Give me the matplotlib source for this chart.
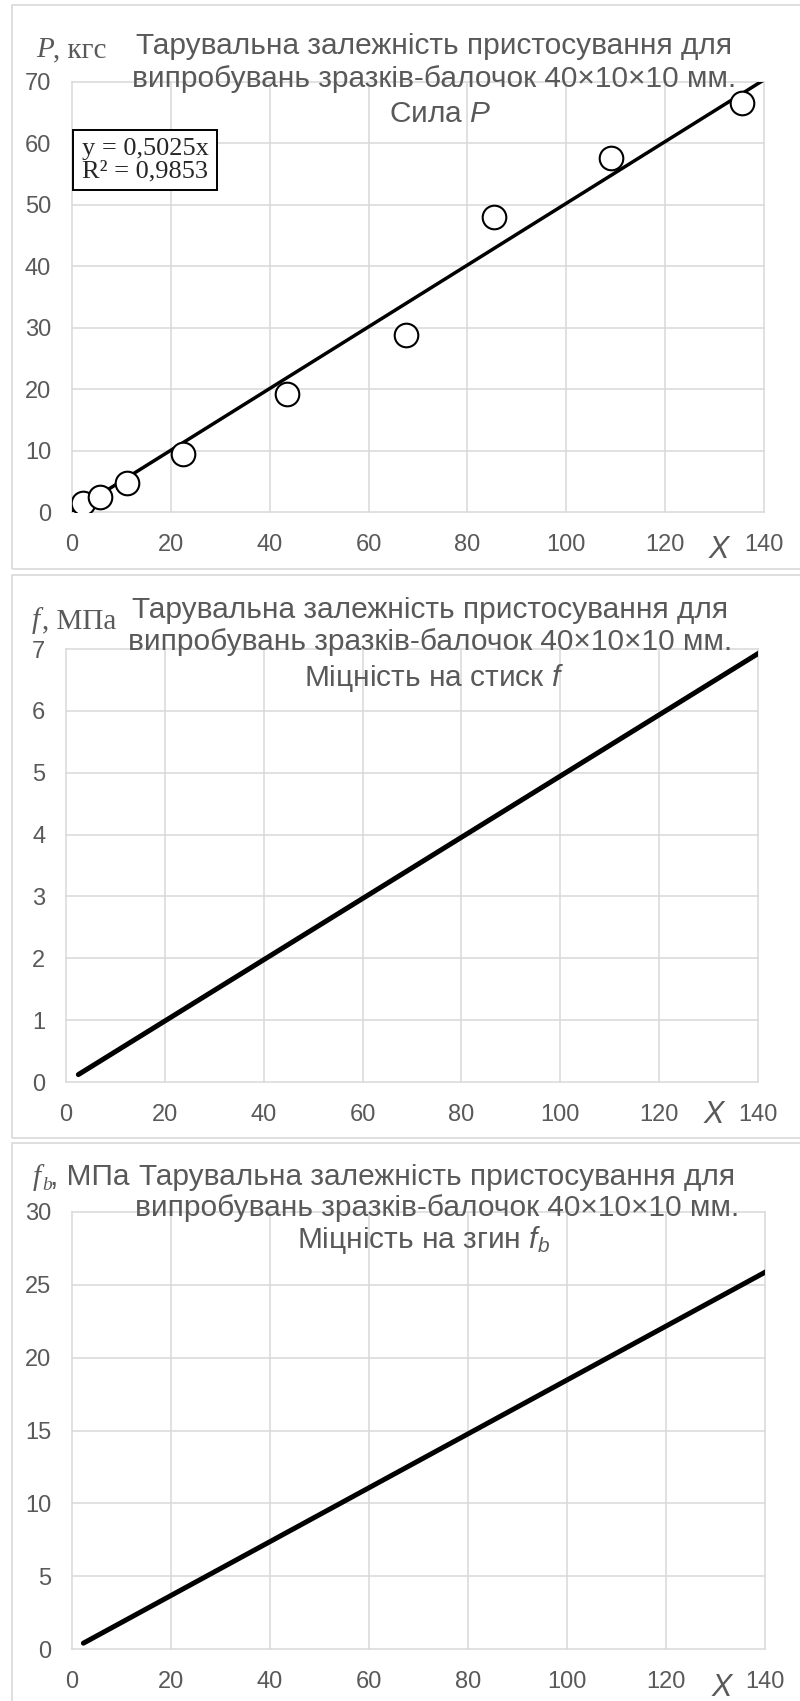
import matplotlib
matplotlib.use('Agg')
import matplotlib.pyplot as plt
from matplotlib import font_manager
from matplotlib.patches import Rectangle

# data
x_points = [2.3, 5.6, 11.1, 22.5, 43.5, 67.5, 85.4, 109.1, 135.6]
p_kgf = [1.5, 2.4, 4.7, 9.5, 19.2, 28.8, 48.0, 57.6, 66.5]
trend_slope = 0.5025
trend_r2 = 0.9853
trend_x = [0, 140]

f_x = [2.5, 140.5]
f_mpa = [0.12, 6.95]

fb_x = [2.3, 140.2]
fb_mpa = [0.4, 25.9]

x_ticks = list(range(0, 141, 20))
p_ticks = list(range(0, 71, 10))
f_ticks = list(range(0, 8))
fb_ticks = list(range(0, 31, 5))

title_1 = 'Тарувальна залежність пристосування для'
title_2 = 'випробувань зразків-балочок 40×10×10 мм.'

W, H = 800, 1701
GREY = '#595959'
GRID = '#d9d9d9'

names = {f.name for f in font_manager.fontManager.ttflist}
SANS = 'Liberation Sans' if 'Liberation Sans' in names else 'DejaVu Sans'
SERIF = 'Liberation Serif' if 'Liberation Serif' in names else 'DejaVu Serif'

plt.rcParams['font.family'] = [SANS, 'DejaVu Sans']
plt.rcParams['mathtext.fontset'] = 'custom'
plt.rcParams['mathtext.rm'] = SANS
plt.rcParams['mathtext.it'] = SANS + ':italic'

fig = plt.figure(figsize=(W / 100, H / 100), dpi=100)


def fx(px):
    return px / W


def fy(py):
    return 1 - py / H


def panel(top, bottom):
    fig.patches.append(Rectangle((fx(12), fy(bottom)), fx(820 - 12), (bottom - top) / H,
                                 transform=fig.transFigure, fill=False,
                                 ec=GRID, lw=1.2))


def make_axes(left, top, right, bottom, yticks):
    ax = fig.add_axes([fx(left), fy(bottom), (right - left) / W, (bottom - top) / H])
    ax.set_xlim(0, 140)
    ax.set_ylim(yticks[0], yticks[-1])
    ax.set_xticks(x_ticks)
    ax.set_yticks(yticks)
    ax.grid(True, color=GRID, lw=1.1)
    ax.set_axisbelow(True)
    for s in ax.spines.values():
        s.set_visible(False)
    ax.tick_params(length=0, labelsize=17, colors=GREY)
    ax.tick_params(axis='x', pad=16)
    ax.tick_params(axis='y', pad=15)
    for gl in ax.get_xgridlines() + ax.get_ygridlines():
        gl.set_clip_on(False)
    return ax


def titles(center, ys, third, third_center=None):
    fig.text(fx(center), fy(ys[0]), title_1, ha='center', va='baseline',
             fontsize=21.5, color=GREY)
    fig.text(fx(center), fy(ys[1]), title_2, ha='center', va='baseline',
             fontsize=21.5, color=GREY)
    fig.text(fx(third_center or center), fy(ys[2]), third, ha='center',
             va='baseline', fontsize=21.5, color=GREY)


def x_mark(px, py):
    fig.text(fx(px), fy(py), 'X', ha='center', va='center', fontsize=22,
             color=GREY, style='italic', family=SANS)


def fmt(v):
    return f'{v:.4f}'.replace('.', ',')


# ---- panel 1: force P
panel(5, 569)
ax1 = make_axes(72, 82, 764, 512, p_ticks)
ax1.plot(trend_x, [trend_slope * v for v in trend_x], color='black', lw=2.5,
         solid_capstyle='round')
ax1.plot(x_points, p_kgf, 'o', ms=17, mfc='white', mec='black', mew=1.5)
ax1.text(2.0, 57.3, f'y = {fmt(trend_slope)}x\nR² = {fmt(trend_r2)}',
         family=SERIF, fontsize=19, color='#262626', va='center', ha='left',
         linespacing=1.0,
         bbox=dict(boxstyle='square,pad=0.32', fc='white', ec='black', lw=1.4))
titles(434, [54, 87, 122], 'Сила $\\mathit{P}$', 440)
fig.text(fx(36), fy(57), 'P', family=SERIF, style='italic', fontsize=21,
         color=GREY, va='baseline')
fig.text(fx(53), fy(57), ', кгс', family=SERIF, fontsize=21, color=GREY,
         va='baseline')
x_mark(719, 550)

# ---- panel 2: compressive strength f
panel(575, 1138)
ax2 = make_axes(66, 649, 758, 1082, f_ticks)
ax2.plot(f_x, f_mpa, color='black', lw=3.6, solid_capstyle='round')
titles(430, [618, 650, 686], 'Міцність на стиск $\\mathit{f}$', 434)
fig.text(fx(32), fy(628), 'f', family=SERIF, style='italic', fontsize=21,
         color=GREY, va='baseline')
fig.text(fx(42), fy(628), ', МПа', family=SERIF, fontsize=21, color=GREY,
         va='baseline')
x_mark(714, 1115)

# ---- panel 3: bending strength fb
panel(1143, 1720)
ax3 = make_axes(72, 1212, 765, 1649, fb_ticks)
ax3.plot(fb_x, fb_mpa, color='black', lw=3.6, solid_capstyle='round')
titles(437, [1185, 1216, 1248], 'Міцність на згин $\\mathit{f}_\\mathit{b}$', 424)
fig.text(fx(33), fy(1185), 'f', family=SERIF, style='italic', fontsize=21,
         color=GREY, va='baseline')
fig.text(fx(42), fy(1190), 'b', family=SERIF, style='italic', fontsize=14,
         color=GREY, va='baseline')
fig.text(fx(50), fy(1185), ', МПа', fontsize=21.5, color=GREY, va='baseline')
x_mark(722, 1688)

fig.savefig('out.png', dpi=100, facecolor='white')
